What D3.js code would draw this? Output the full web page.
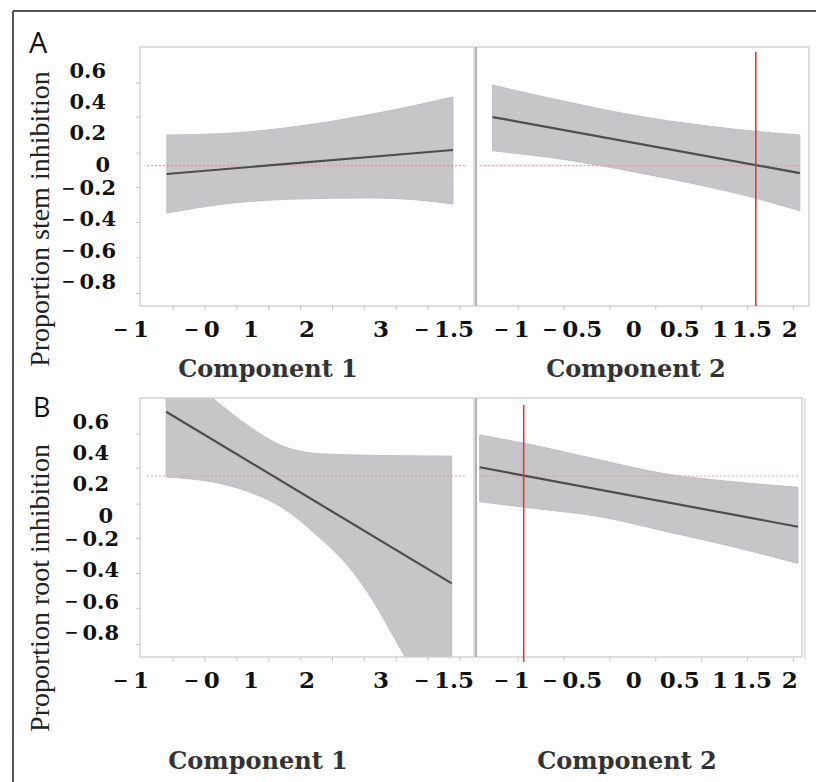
<!DOCTYPE html>
<html><head><meta charset="utf-8">
<script src="https://cdn.jsdelivr.net/npm/d3@7"></script>
<style>body{margin:0;background:#fff} svg{display:block}</style>
</head><body><svg id="c" width="816" height="782"></svg>
<script>
// ---------- data ----------
const yTickValues = [0.6, 0.4, 0.2, 0, -0.2, -0.4, -0.6, -0.8];
const yTickLabels = ["0.6", "0.4", "0.2", "0", "− 0.2", "− 0.4", "− 0.6", "− 0.8"];
const yMinorTicks = [0.52, 0.30, 0.07, -0.15, -0.375, -0.60, -0.83];

const comp1Ticks = [-1, -0.5, 0, 0.5, 1, 1.5, 2, 2.5, 3, 3.5];
const comp1Labels = ["− 1", "− 0", "1", "2", "3", "− 1.5"];
const comp1LabelAt = [-1.66, -0.55, 0.22, 1.10, 2.26, 3.25];
const comp2Ticks = [-1, -0.5, 0, 0.5, 1, 1.5, 2];
const comp2Labels = ["− 1", "− 0.5", "0", "0.5", "1", "1.5", "2"];
const comp2LabelAt = [-1.07, -0.41, 0.26, 0.76, 1.20, 1.55, 1.96];

// Row A: stem inhibition
const a1X  = [-1.10, -0.06, 0.99, 2.04, 2.82, 3.39];
const a1Up = [0.186, 0.199, 0.244, 0.314, 0.378, 0.430];
const a1Lo = [-0.314, -0.250, -0.224, -0.218, -0.230, -0.256];
const a1Fit = [-0.064, 0.090];
const a2X  = [-1.28, -0.47, 0.25, 0.98, 1.53, 2.07];
const a2Up = [0.506, 0.399, 0.314, 0.250, 0.213, 0.186];
const a2Lo = [0.085, 0.026, -0.049, -0.135, -0.210, -0.300];
const a2Fit = [0.301, -0.058];
const aRefY = -0.01;
const aCrossX = 1.59;

// Row B: root inhibition
const b1X  = [-1.11, -0.75, -0.38, 0.20, 0.72, 1.25, 1.77, 2.04, 2.64, 3.37];
const b1Up = [1.00, 0.88, 0.75, 0.566, 0.442, 0.395, 0.386, 0.383, 0.380, 0.378];
const b1Lo = [0.244, 0.232, 0.212, 0.147, 0.045, -0.128, -0.340, -0.490, -0.910, -1.420];
const b1Fit = [0.662, -0.438];
const b2X  = [-1.42, -0.84, -0.11, 0.62, 1.34, 2.05];
const b2Up = [0.513, 0.449, 0.353, 0.263, 0.214, 0.178];
const b2Lo = [0.085, 0.043, -0.011, -0.107, -0.203, -0.310];
const b2Fit = [0.306, -0.075];
const bRefY = 0.25;
const bCrossX = -0.94;

const rowTitles = ["Proportion stem inhibition", "Proportion root inhibition"];
const rowLetters = ["A", "B"];
const compTitles = ["Component 1", "Component 2"];

// ---------- layout ----------
const svg = d3.select("#c");
const W = 816, H = 782;
const rows = [{top: 47, bottom: 306, titleY: 377, letterX: 29, letterY: 53, labX: 106, yTitleC: 219},
              {top: 398, bottom: 657, titleY: 769, letterX: 33, letterY: 417, labX: 109, yTitleC: 588}];
const yDom = [-0.91, 0.75];
const x1Dom = [-1.52, 3.72], x1Rng = [140, 474];
const x2Dom = [-1.46, 2.17], x2Rng = [476, 809];

// outer frame (left + top)
svg.append("line").attr("x1", 13).attr("y1", 11).attr("x2", 13).attr("y2", H)
  .attr("stroke", "#555").attr("stroke-width", 2);
svg.append("line").attr("x1", 13).attr("y1", 11).attr("x2", W).attr("y2", 11)
  .attr("stroke", "#555").attr("stroke-width", 2);

const defs = svg.append("defs");

function tickText(sel, str) {
  if (str.startsWith("−")) {
    sel.append("tspan").attr("font-size", "0.8em").attr("dy", -1.5).text("−");
    sel.append("tspan").attr("dy", 1.5).text("\u2009" + str.slice(1).trim());
  } else sel.text(str);
}

const panels = [
  {r: 0, c: 0, xs: a1X, up: a1Up, lo: a1Lo, fit: a1Fit, refY: aRefY, cross: null},
  {r: 0, c: 1, xs: a2X, up: a2Up, lo: a2Lo, fit: a2Fit, refY: aRefY, cross: aCrossX},
  {r: 1, c: 0, xs: b1X, up: b1Up, lo: b1Lo, fit: b1Fit, refY: bRefY, cross: null},
  {r: 1, c: 1, xs: b2X, up: b2Up, lo: b2Lo, fit: b2Fit, refY: bRefY, cross: bCrossX}
];

panels.forEach((p, i) => {
  const row = rows[p.r];
  const y = d3.scaleLinear().domain(yDom).range([row.bottom, row.top]);
  const x = p.c === 0 ? d3.scaleLinear().domain(x1Dom).range(x1Rng)
                      : d3.scaleLinear().domain(x2Dom).range(x2Rng);
  const left = x.range()[0];
  const right = (p.c === 1 && p.r === 1) ? 802 : x.range()[1];
  const g = svg.append("g");
  const cid = "clip" + i;
  defs.append("clipPath").attr("id", cid).append("rect")
    .attr("x", left).attr("y", row.top).attr("width", right - left).attr("height", row.bottom - row.top);

  const pg = g.append("g").attr("clip-path", `url(#${cid})`);
  const pts = p.xs.map((v, k) => ({x: v, up: p.up[k], lo: p.lo[k]}));
  const area = d3.area().x(d => x(d.x)).y0(d => y(d.lo)).y1(d => y(d.up)).curve(d3.curveMonotoneX);
  pg.append("path").datum(pts).attr("d", area)
    .attr("fill", "#c6c6c9").attr("stroke", "#b7b7c3").attr("stroke-width", 0.8);

  // reference dotted line
  const refExt = p.c === 0 ? [-1.41, 3.58] : [-1.42, 2.07];
  pg.append("line").attr("x1", x(refExt[0])).attr("x2", x(refExt[1]))
    .attr("y1", y(p.refY)).attr("y2", y(p.refY))
    .attr("stroke", "#e49a9a").attr("stroke-width", 1.2).attr("stroke-dasharray", "2,2");

  // fitted line
  const line = d3.line().x(d => x(d[0])).y(d => y(d[1]));
  pg.append("path").datum([[p.xs[0], p.fit[0]], [p.xs[p.xs.length - 1], p.fit[1]]])
    .attr("d", line).attr("fill", "none").attr("stroke", "#4d4d4f").attr("stroke-width", 2.2);

  // frame
  g.append("rect").attr("x", left).attr("y", row.top).attr("width", right - left)
    .attr("height", row.bottom - row.top).attr("fill", "none")
    .attr("stroke", "#cdcdcd").attr("stroke-width", 1.3);
  if (p.c === 1) {
    g.append("line").attr("x1", left).attr("x2", left).attr("y1", row.top).attr("y2", row.bottom)
      .attr("stroke", "#9c9c9c").attr("stroke-width", 1.3);
  }
  if (p.c === 1 && p.r === 1) {
    g.append("line").attr("x1", right + 3).attr("x2", right + 3).attr("y1", row.top).attr("y2", row.bottom + 3)
      .attr("stroke", "#d6d6d6").attr("stroke-width", 1.2);
  }

  // red crosshair vertical
  if (p.cross !== null) {
    g.append("line").attr("x1", x(p.cross)).attr("x2", x(p.cross))
      .attr("y1", y(p.r === 0 ? 0.718 : 0.705)).attr("y2", p.r === 0 ? row.bottom : row.bottom + 5)
      .attr("stroke", "#e23a3a").attr("stroke-width", 1.6);
  }

  // faint x ticks
  const xt = p.c === 0 ? comp1Ticks : comp2Ticks;
  g.selectAll(null).data(xt).join("line")
    .attr("x1", d => x(d)).attr("x2", d => x(d))
    .attr("y1", row.bottom).attr("y2", row.bottom + 4)
    .attr("stroke", "#c4c4c4").attr("stroke-width", 1);

  // x labels
  const labs = p.c === 0 ? comp1Labels : comp2Labels;
  const at = p.c === 0 ? comp1LabelAt : comp2LabelAt;
  labs.forEach((s, k) => {
    const t = g.append("text").attr("x", x(at[k])).attr("y", row.bottom + 31)
      .attr("text-anchor", "middle")
      .attr("font-family", "DejaVu Serif").attr("font-weight", "bold")
      .attr("font-size", 23).attr("fill", "#111");
    tickText(t, s);
  });

  // component title
  g.append("text").attr("x", p.c === 0 ? (p.r === 0 ? 268 : 258) : (p.r === 0 ? 636 : 627))
    .attr("y", row.titleY).attr("text-anchor", "middle")
    .attr("font-family", "DejaVu Serif").attr("font-weight", "bold")
    .attr("font-size", 24).attr("fill", "#333").text(compTitles[p.c]);

  // y axis (only on left panel)
  if (p.c === 0) {
    g.selectAll(null).data(yMinorTicks).join("line")
      .attr("x1", left - 4).attr("x2", left).attr("y1", d => y(d)).attr("y2", d => y(d))
      .attr("stroke", "#c8c8c8").attr("stroke-width", 1);
    yTickValues.forEach((v, k) => {
      const t = g.append("text")
        .attr("x", row.labX + (v < 0 ? 10 : (v === 0 ? 4 : 0)))
        .attr("y", y(v)).attr("dy", "0.36em").attr("text-anchor", "end")
        .attr("font-family", "DejaVu Serif").attr("font-weight", "bold")
        .attr("font-size", 21).attr("fill", "#111");
      tickText(t, yTickLabels[k]);
    });
    // row title
    svg.append("text")
      .attr("transform", `translate(49,${row.yTitleC}) rotate(-90)`)
      .attr("text-anchor", "middle").attr("font-family", "Liberation Serif")
      .attr("font-size", 28).attr("fill", "#222").text(rowTitles[p.r]);
    svg.append("text").attr("x", row.letterX).attr("y", row.letterY)
      .attr("font-family", "Open Sans").attr("font-size", p.r === 0 ? 29 : 27)
      .attr("fill", "#111").text(rowLetters[p.r]);
  }
});
</script></body></html>
